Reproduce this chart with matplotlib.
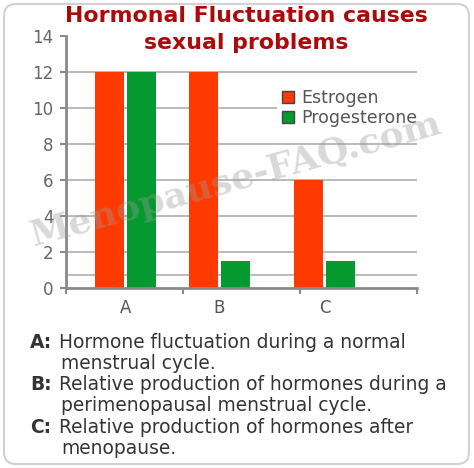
import matplotlib
matplotlib.use("Agg")
import matplotlib.pyplot as plt
from matplotlib.patches import Patch, FancyBboxPatch
from matplotlib.transforms import IdentityTransform

# --- data
categories = ["A", "B", "C"]
estrogen = [12, 12, 6]
progesterone = [12, 1.5, 1.5]
series_names = ["Estrogen", "Progesterone"]
y_ticks = [0, 2, 4, 6, 8, 10, 12, 14]
notes = [
    ("A:", ["Hormone fluctuation during a normal", "menstrual cycle."]),
    ("B:", ["Relative production of hormones during a", "perimenopausal menstrual cycle."]),
    ("C:", ["Relative production of hormones after", "menopause."]),
]

# --- layout / style
W, H = 474, 468
RED = "#ff3a00"
GREEN = "#05992f"
TITLE_RED = "#aa0a0a"
group_pos = [0.51, 1.31, 2.21]
bar_w = 0.245
offset = 0.137

fig = plt.figure(figsize=(W / 100, H / 100), dpi=100)
fig.patch.set_facecolor("white")

# rounded frame round everything
frame = FancyBboxPatch((4, 4), W - 9, H - 8, boxstyle="round,pad=0,rounding_size=12",
                       transform=IdentityTransform(), facecolor="none",
                       edgecolor="#d2d2d2", linewidth=1.5)
fig.patches.append(frame)

ax = fig.add_axes([66 / W, 1 - 288 / H, 351 / W, 252 / H])

ax.bar([p - offset for p in group_pos], estrogen, width=bar_w, color=RED, zorder=3)
ax.bar([p + offset for p in group_pos], progesterone, width=bar_w, color=GREEN, zorder=3)

ax.set_xlim(0, 3)
ax.set_ylim(0, 14)
ax.set_yticks(y_ticks)
ax.set_yticklabels([str(t) for t in y_ticks])
ax.set_xticks(group_pos)
ax.set_xticklabels(categories)
ax.set_xticks([0, 1, 2, 3], minor=True)

for v in y_ticks[1:-1] + [0.7]:
    ax.axhline(v, color="#b4b4b4", lw=1.3, zorder=1)

for s in ["top", "right"]:
    ax.spines[s].set_visible(False)
for s in ["left", "bottom"]:
    ax.spines[s].set_color("#8a8a8a")
    ax.spines[s].set_linewidth(2)
    ax.spines[s].set_zorder(4)

ax.tick_params(axis="y", length=4, width=1.5, color="#8a8a8a", labelcolor="#666666",
               labelsize=12, pad=5)
ax.tick_params(axis="x", which="major", length=0, labelcolor="#555555", labelsize=12, pad=8)
ax.tick_params(axis="x", which="minor", length=4, width=1.5, color="#8a8a8a")

handles = [Patch(facecolor=RED, edgecolor="#444444", linewidth=1),
           Patch(facecolor=GREEN, edgecolor="#444444", linewidth=1)]
leg = ax.legend(handles, series_names, loc="upper left", bbox_to_anchor=(0.6, 0.81),
                frameon=True, facecolor="white", edgecolor="none", framealpha=1,
                fontsize=12.5, handlelength=0.7, handleheight=0.7, handletextpad=0.4,
                labelspacing=0.12, borderpad=0.3, borderaxespad=0)
leg.set_zorder(5)
for t in leg.get_texts():
    t.set_color("#555555")

# watermark over the bars
fig.text(236 / W, 1 - 180 / H, "Menopause-FAQ.com", family="DejaVu Serif", weight="bold",
         fontsize=26, color="#9a9a9a", alpha=0.38, rotation=15.5, ha="center", va="center",
         zorder=10)

# title
fig.text(246 / W, 1 - 16 / H, "Hormonal Fluctuation causes", color=TITLE_RED,
         weight="bold", fontsize=15.8, ha="center", va="center")
fig.text(246 / W, 1 - 43 / H, "sexual problems", color=TITLE_RED,
         weight="bold", fontsize=15.8, ha="center", va="center")

# notes under the chart
y = 342
for key, lines in notes:
    fig.text(30 / W, 1 - y / H, key, weight="bold", color="#333333", fontsize=13.4,
             ha="left", va="center")
    for i, line in enumerate(lines):
        fig.text((59 if i == 0 else 61) / W, 1 - y / H, line, color="#333333",
                 fontsize=13.4, ha="left", va="center")
        y += 21.3

fig.savefig("out.png", dpi=100)
